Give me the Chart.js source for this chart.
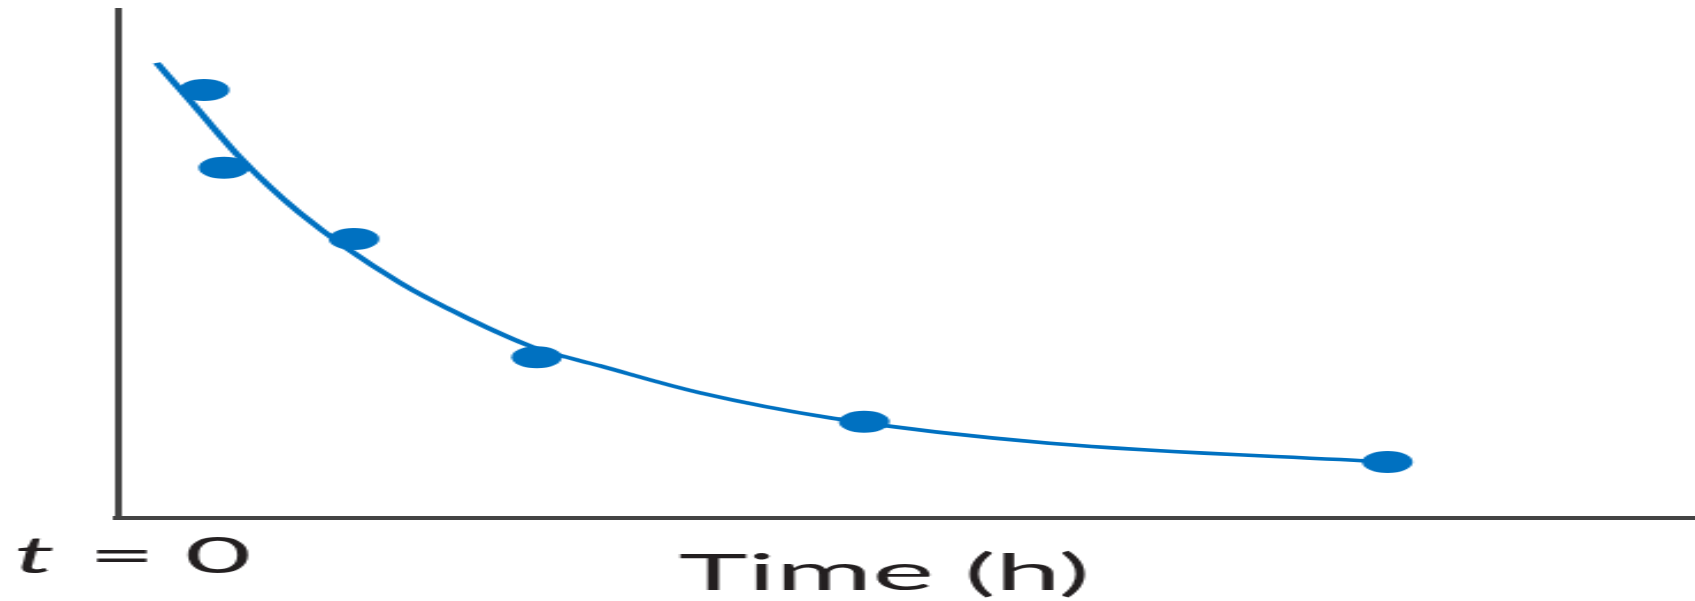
<!DOCTYPE html>
<html>
<head>
<meta charset="utf-8">
<script src="https://cdn.jsdelivr.net/npm/chart.js@4.4.1/dist/chart.umd.min.js"></script>
<style>
  html, body { margin: 0; padding: 0; background: #fff; overflow: hidden; }
  /* the source figure is a narrow drawing stretched sideways, so draw narrow and stretch */
  #wrap { width: 737px; height: 601px; transform: scaleX(2.3); transform-origin: 0 0; }
</style>
</head>
<body>
<div id="wrap"><canvas id="decayChart" width="737" height="601"></canvas></div>
<script>
// measured points (time in h, level in % of axis height)
const measuredTimes = [0.66, 0.81, 1.80, 3.19, 5.68, 9.66];
const measuredLevels = [84.1, 68.8, 54.8, 31.6, 18.9, 11.0];

// fitted curve
const fitTimes = [0.30, 0.55, 0.93, 1.38, 2.15, 2.66, 3.16, 3.67, 4.43, 5.44, 7.09, 9.66];
const fitLevels = [89.4, 82.1, 70.9, 60.1, 46.2, 39.3, 33.6, 29.9, 24.6, 19.6, 14.7, 11.0];

const axisTitle = "Time (h)";
const originLabel = ["t", " = 0"];

const blue = "#0071c1";
const ink = "#231f20";

const toXY = (xs, ys) => xs.map((x, i) => ({ x, y: ys[i] }));

const axisText = {
  id: "axisText",
  afterDraw(chart) {
    const { ctx, chartArea } = chart;
    ctx.save();
    ctx.fillStyle = ink;
    ctx.textBaseline = "alphabetic";
    ctx.textAlign = "left";

    ctx.font = "51px Lato";
    ctx.fillText(axisTitle, chartArea.left + 244, chartArea.bottom + 72);

    const ox = chartArea.left - 45;
    const oy = chartArea.bottom + 55;
    ctx.font = "italic 50px Lato";
    ctx.fillText(originLabel[0], ox, oy);
    const tw = ctx.measureText(originLabel[0]).width;
    ctx.font = "50px Lato";
    ctx.fillText(originLabel[1], ox + tw + 2, oy);
    ctx.restore();
  },
};

const ctx = document.getElementById("decayChart").getContext("2d");
new Chart(ctx, {
  type: "scatter",
  data: {
    datasets: [
      {
        label: "Measured",
        data: toXY(measuredTimes, measuredLevels),
        backgroundColor: blue,
        borderWidth: 0,
        pointRadius: 11,
        order: 0,
      },
      {
        label: "Fit",
        type: "line",
        data: toXY(fitTimes, fitLevels),
        borderColor: blue,
        borderWidth: 3.5,
        pointRadius: 0,
        fill: false,
        cubicInterpolationMode: "monotone",
        order: 1,
      },
    ],
  },
  options: {
    responsive: false,
    animation: false,
    layout: { autoPadding: false, padding: { left: 51, top: 9, right: 0, bottom: 83 } },
    plugins: {
      legend: { display: false },
      tooltip: { enabled: false },
    },
    scales: {
      x: {
        type: "linear",
        min: 0,
        max: 12,
        grid: { display: false, drawTicks: false },
        ticks: { display: false },
        border: { color: "#444", width: 4 },
      },
      y: {
        min: 0,
        max: 100,
        grid: { display: false, drawTicks: false },
        ticks: { display: false },
        border: { color: "#444", width: 3 },
      },
    },
  },
  plugins: [axisText],
});
</script>
</body>
</html>
